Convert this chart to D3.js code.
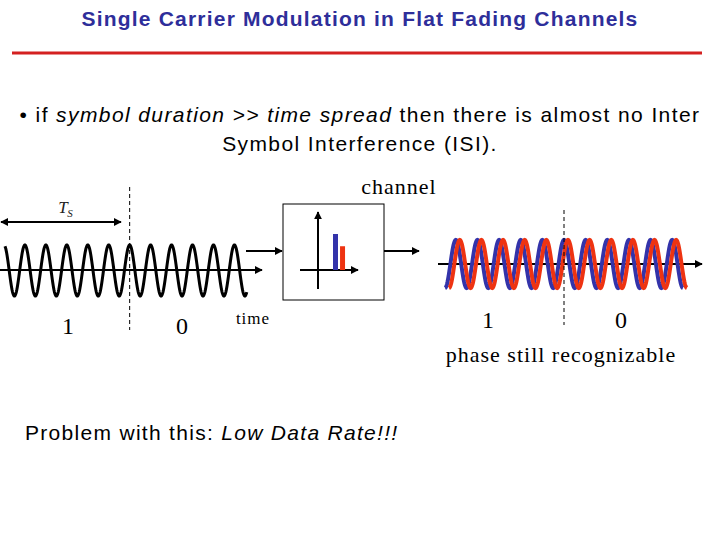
<!DOCTYPE html>
<html><head><meta charset="utf-8">
<script src="https://cdn.jsdelivr.net/npm/d3@7"></script>
<style>body{margin:0;background:#fff}svg{display:block}</style>
</head><body><div id="root"></div>
<script>
// symbols sent, channel taps (delay, gain), cycles per symbol
const bits = ["1", "0"];
const cyclesPerSymbol = 5.5;
const taps = [
  {delay: 0.0, gain: 1.0, color: "#3333aa"},
  {delay: 0.22, gain: 0.66, color: "#ee3311"}
];
const txWave = d3.range(-0.45, 2 * cyclesPerSymbol + 0.1, 0.02);
const rxWave = d3.range(0, 2 * cyclesPerSymbol + 0.01, 0.02);

const svg = d3.select("#root").append("svg").attr("width", 720).attr("height", 540);
const defs = svg.append("defs");
defs.append("marker").attr("id", "ar").attr("viewBox", "0 0 10 10").attr("refX", 9).attr("refY", 5)
  .attr("markerWidth", 4).attr("markerHeight", 4).attr("orient", "auto-start-reverse")
  .append("path").attr("d", "M0,0L10,5L0,10z").attr("fill", "#000");

const arrow = (x1, y1, x2, y2, both) => svg.append("line")
  .attr("x1", x1).attr("y1", y1).attr("x2", x2).attr("y2", y2)
  .attr("stroke", "#000").attr("stroke-width", 2)
  .attr("marker-end", "url(#ar)").attr("marker-start", both ? "url(#ar)" : null);
const text = (x, y, s, size, opts = {}) => svg.append("text").attr("x", x).attr("y", y)
  .attr("font-family", opts.family || "Liberation Serif").attr("font-size", size)
  .attr("text-anchor", opts.anchor || "middle").attr("fill", opts.fill || "#000")
  .attr("letter-spacing", opts.ls || 0)
  .attr("font-style", opts.italic ? "italic" : null).attr("font-weight", opts.bold ? "bold" : null)
  .text(s);

// title
text(360, 26, "Single Carrier Modulation in Flat Fading Channels", 21, {family: "Liberation Sans", bold: true, fill: "#2e2e9a", ls: 1.2});
svg.append("line").attr("x1", 12).attr("x2", 702).attr("y1", 53).attr("y2", 53).attr("stroke", "#d42020").attr("stroke-width", 3);

const b1 = svg.append("text").attr("x", 360).attr("y", 122).attr("text-anchor", "middle")
  .attr("font-family", "Liberation Sans").attr("font-size", 21).attr("letter-spacing", 1.4);
b1.append("tspan").text("• if ");
b1.append("tspan").attr("font-style", "italic").text("symbol duration  >> time spread");
b1.append("tspan").text(" then there is almost no Inter");
text(360, 151, "Symbol Interference (ISI).", 21, {family: "Liberation Sans", ls: 1.4});

const p = svg.append("text").attr("x", 25).attr("y", 440).attr("font-family", "Liberation Sans")
  .attr("font-size", 21).attr("letter-spacing", 1.3);
p.append("tspan").text("Problem with this: ");
p.append("tspan").attr("font-style", "italic").text("Low Data Rate!!!");

// transmitted signal
const tMax = 2 * cyclesPerSymbol;
const xL = d3.scaleLinear().domain([-0.45, tMax + 0.1]).range([5, 247]);
const yL = d3.scaleLinear().domain([-1, 1]).range([296, 245]);
const bL = xL(cyclesPerSymbol);
arrow(0, 270, 262, 270);
svg.append("path").datum(txWave)
  .attr("fill", "none").attr("stroke", "#000").attr("stroke-width", 3)
  .attr("d", d3.line().x(t => xL(t)).y(t => yL(Math.cos(2 * Math.PI * (t - cyclesPerSymbol)))));
svg.append("line").attr("x1", bL).attr("x2", bL).attr("y1", 187).attr("y2", 330).attr("stroke", "#000").attr("stroke-dasharray", "4,3");
arrow(1, 222, 121, 222, true);
text(63, 213, "T", 17, {italic: true, fill: "#222"});
text(70, 217, "S", 11, {italic: true, fill: "#222"});
bits.forEach((b, i) => text(i ? 182 : 68, 334, b, 24));
text(253, 324, "time", 17, {ls: 1});

// channel box
svg.append("rect").attr("x", 283).attr("y", 204).attr("width", 101).attr("height", 96).attr("fill", "none").attr("stroke", "#000");
arrow(246, 251, 282, 251);
arrow(384, 251, 419, 251);
arrow(318, 289, 318, 212);
arrow(300, 270, 358, 270);
const xc = d3.scaleLinear().domain([0, 1]).range([333, 365]);
const yc = d3.scaleLinear().domain([0, 1]).range([270, 234]);
svg.selectAll(".tap").data(taps).join("rect")
  .attr("x", d => xc(d.delay)).attr("width", 5)
  .attr("y", d => yc(d.gain)).attr("height", d => 270 - yc(d.gain)).attr("fill", d => d.color);
text(399, 194, "channel", 22, {ls: 1});

// received signal
const xR = d3.scaleLinear().domain([0, tMax]).range([445, 683]);
const yR = d3.scaleLinear().domain([-1, 1]).range([288, 240]);
arrow(438, 264, 702, 264);
taps.forEach(tp => {
  svg.append("path").datum(rxWave)
    .attr("fill", "none").attr("stroke", tp.color).attr("stroke-width", 4)
    .attr("d", d3.line().x(t => xR(t) + tp.delay * 18).y(t => yR(Math.cos(2 * Math.PI * (t + 0.5)))));
});
const bR = xR(cyclesPerSymbol);
svg.append("line").attr("x1", bR).attr("x2", bR).attr("y1", 210).attr("y2", 325).attr("stroke", "#000").attr("stroke-dasharray", "4,3");
bits.forEach((b, i) => text(i ? 621 : 488, 328, b, 24));
text(561, 362, "phase still recognizable", 22, {ls: 1});
</script></body></html>
